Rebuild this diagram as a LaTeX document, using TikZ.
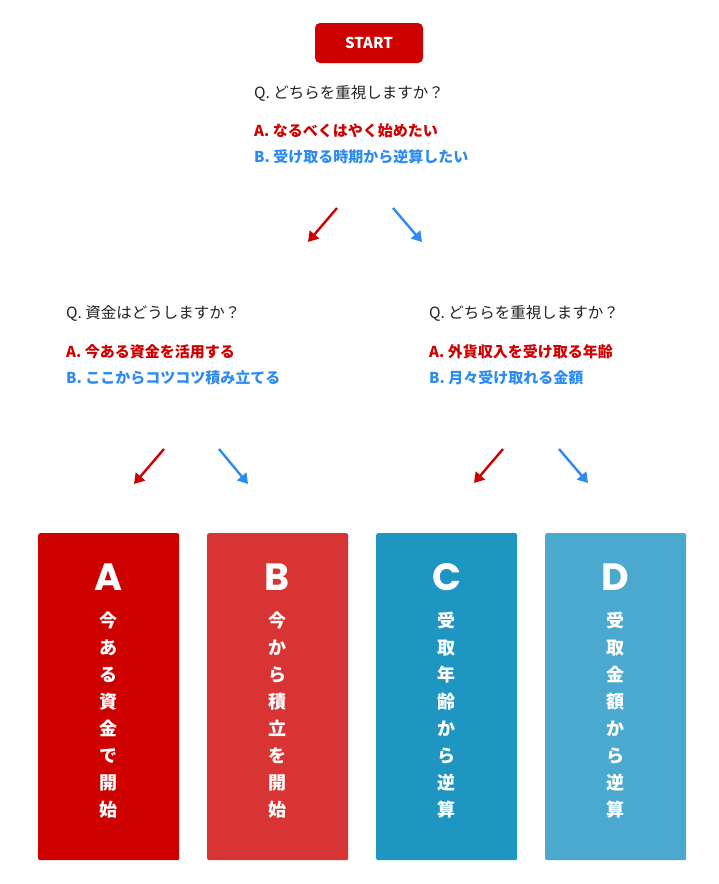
\documentclass[tikz,border=0pt]{standalone}
\usepackage{fontspec}
\setmainfont{Noto Sans CJK JP}
\newfontfamily\pop{Poppins}
\usetikzlibrary{arrows.meta}
\definecolor{cA}{HTML}{CF0000}
\definecolor{cB}{HTML}{D83434}
\definecolor{cC}{HTML}{1E96C1}
\definecolor{cD}{HTML}{4BA9CF}
\definecolor{blu}{HTML}{2E8BF0}
\definecolor{txt}{HTML}{222222}
\tikzset{
 q/.style={anchor=west,inner sep=0,font=\fontsize{15.5}{18}\selectfont,text=txt},
 qa/.style={anchor=west,inner sep=0,font=\fontsize{15}{18}\selectfont\bfseries,text=cA},
 qb/.style={anchor=west,inner sep=0,font=\fontsize{15}{18}\selectfont\bfseries,text=blu},
 arr/.style={line width=2.4pt,-{Triangle[length=10pt,width=12pt]}},
 box/.style={rounded corners=2pt,minimum width=141pt,minimum height=327pt,anchor=north west,inner sep=0},
 big/.style={inner sep=0,text=white,font=\pop\fontsize{38}{40}\selectfont\bfseries},
 vt/.style={inner sep=0,text=white,align=center,anchor=north,font=\fontsize{18}{27}\selectfont\bfseries}
}
\begin{document}
\begin{tikzpicture}[x=1pt,y=-1pt]
\useasboundingbox[fill=white] (0,0) rectangle (719,884);
\node[fill=cA,rounded corners=5pt,minimum width=108pt,minimum height=40pt,text=white,font=\fontsize{15}{18}\selectfont\bfseries] (start) at (369,43) {START};
\node[q] (q1) at (254,93) {Q. どちらを重視しますか？};
\node[qa] (a1) at (254,131) {A. なるべくはやく始めたい};
\node[qb] (b1) at (254,157) {B. 受け取る時期から逆算したい};
\coordinate (r1s) at (337,208); \coordinate (r1e) at (308,242);
\coordinate (b1s) at (393,208); \coordinate (b1e) at (422,242);
\draw[arr,cA] (r1s) -- (r1e);
\draw[arr,blu] (b1s) -- (b1e);
\node[q] (q2) at (66,313) {Q. 資金はどうしますか？};
\node[qa] (a2) at (66,352) {A. 今ある資金を活用する};
\node[qb] (b2) at (66,378) {B. ここからコツコツ積み立てる};
\node[q] (q3) at (429,313) {Q. どちらを重視しますか？};
\node[qa] (a3) at (429,352) {A. 外貨収入を受け取る年齢};
\node[qb] (b3) at (429,378) {B. 月々受け取れる金額};
\coordinate (r2s) at (164,449); \coordinate (r2e) at (134,484);
\coordinate (b2s) at (219,449); \coordinate (b2e) at (248,484);
\coordinate (r3s) at (503,449); \coordinate (r3e) at (474,483);
\coordinate (b3s) at (559,449); \coordinate (b3e) at (588,483);
\draw[arr,cA] (r2s) -- (r2e);
\draw[arr,blu] (b2s) -- (b2e);
\draw[arr,cA] (r3s) -- (r3e);
\draw[arr,blu] (b3s) -- (b3e);
\node[box,fill=cA] (bA) at (38,533) {};
\node[box,fill=cB] (bB) at (207,533) {};
\node[box,fill=cC] (bC) at (376,533) {};
\node[box,fill=cD] (bD) at (545,533) {};
\node[big] (lA) at (108.5,577) {A};
\node[big] (lB) at (277.5,577) {B};
\node[big] (lC) at (446.5,577) {C};
\node[big] (lD) at (615.5,577) {D};
\node[vt] (tA) at (108.5,612) {今\\あ\\る\\資\\金\\で\\開\\始};
\node[vt] (tB) at (277.5,612) {今\\か\\ら\\積\\立\\を\\開\\始};
\node[vt] (tC) at (446.5,612) {受\\取\\年\\齢\\か\\ら\\逆\\算};
\node[vt] (tD) at (615.5,612) {受\\取\\金\\額\\か\\ら\\逆\\算};
\end{tikzpicture}
\end{document}
